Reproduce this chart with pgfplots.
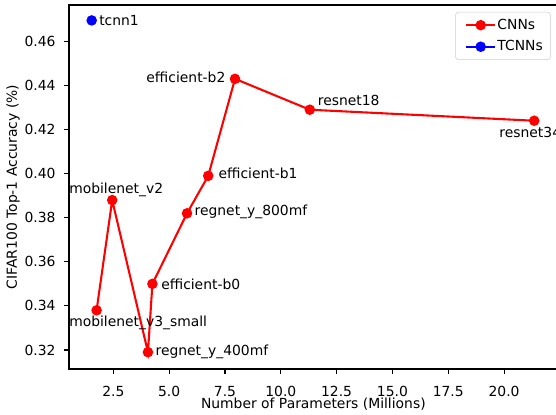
\documentclass[border=0pt]{standalone}
\usepackage{pgfplots}
\pgfplotsset{compat=1.18}
\usepackage{fontspec}
\setmainfont{DejaVu Sans}

\begin{document}
\begin{tikzpicture}[font=\fontsize{10bp}{12bp}\selectfont]
\begin{axis}[
  scale only axis,
  width=351.9bp, height=262.1bp,
  xmin=0.515, xmax=22.40, ymin=0.3114, ymax=0.4765,
  clip=false,
  font=\fontsize{10bp}{12bp}\selectfont,
  /pgf/number format/assume math mode=true,
  xtick={2.5,5,7.5,10,12.5,15,17.5,20},
  ytick={0.32,0.34,0.36,0.38,0.40,0.42,0.44,0.46},
  xticklabel style={/pgf/number format/fixed, /pgf/number format/fixed zerofill, /pgf/number format/precision=1, anchor=north, inner sep=0pt, yshift=-8.6bp},
  yticklabel style={/pgf/number format/fixed, /pgf/number format/fixed zerofill, /pgf/number format/precision=2, anchor=east, inner sep=0pt, xshift=-6bp},
  scaled ticks=false,
  xtick pos=bottom, ytick pos=left,
  tick align=outside,
  major tick length=3.5bp,
  tick style={black, line width=0.8bp},
  axis line style={line width=0.8bp},
  xlabel={Number of Parameters (Millions)},
  ylabel={CIFAR100 Top-1 Accuracy (\%)},
  xlabel style={at={(axis description cs:0.5,-0.0975)}, anchor=center, inner sep=0pt},
  ylabel style={at={(axis description cs:-0.1145,0.5)}, anchor=center, inner sep=0pt},
  legend style={at={(rel axis cs:1,1)}, anchor=north east, xshift=-5bp, yshift=-5bp,
    draw=black!20, rounded corners=2bp, fill=white, inner xsep=4.5bp, inner ysep=3.6bp,
    font=\fontsize{10bp}{12bp}\selectfont, row sep=4bp,
    nodes={inner sep=1bp, text height=7.5bp, text depth=2bp}},
  legend cell align=left,
  legend image code/.code={\path (-2.5bp,0bp); \draw[mark repeat=2, mark phase=2] plot coordinates {(0bp,0bp)(10.3bp,0bp)(20.6bp,0bp)};},
]
\addplot[red, line width=1.5bp, mark=*, mark size=3bp, mark options={solid, fill=red, draw=red}] coordinates {
  (1.75,0.338) (2.45,0.388) (4.05,0.319) (4.25,0.350) (5.8,0.382) (6.75,0.399) (7.95,0.443) (11.3,0.429) (21.35,0.424)
};
\addlegendentry{CNNs}
\addplot[blue, line width=1.5bp, mark=*, mark size=3bp, mark options={solid, fill=blue, draw=blue}] coordinates {
  (1.53,0.4695)
};
\addlegendentry{TCNNs}

\node[anchor=west, inner sep=0pt] at (axis cs:1.858,0.4695) {tcnn1};
\node[anchor=east, inner sep=0pt] at (axis cs:7.53,0.4436) {efficient-b2};
\node[anchor=base west, inner sep=0pt] at (axis cs:11.65,0.4308) {resnet18};
\node[anchor=base west, inner sep=0pt] at (axis cs:19.78,0.4165) {resnet34};
\node[anchor=base west, inner sep=0pt] at (axis cs:7.20,0.3976) {efficient-b1};
\node[anchor=base west, inner sep=0pt] at (axis cs:6.13,0.3808) {regnet\_y\_800mf};
\node[anchor=base west, inner sep=0pt] at (axis cs:0.515,0.3911) {mobilenet\_v2};
\node[anchor=base west, inner sep=0pt] at (axis cs:0.515,0.3306) {mobilenet\_v3\_small};
\node[anchor=base west, inner sep=0pt] at (axis cs:4.635,0.3475) {efficient-b0};
\node[anchor=base west, inner sep=0pt] at (axis cs:4.38,0.3177) {regnet\_y\_400mf};

\coordinate (SW) at (rel axis cs:0,0);
\coordinate (NE) at (rel axis cs:1,1);
\end{axis}
\pgfresetboundingbox
\path[use as bounding box] ([shift={(-49.7bp,-33.1bp)}]SW) rectangle ([shift={(-1.2bp,3.6bp)}]NE);
\end{tikzpicture}
\end{document}
